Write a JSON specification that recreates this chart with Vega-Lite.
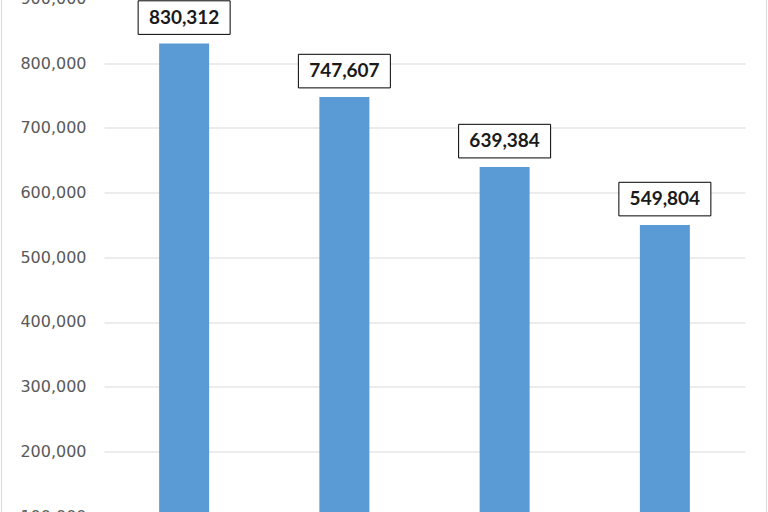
{
  "$schema": "https://vega.github.io/schema/vega-lite/v6.json",
  "autosize": {"type": "none"},
  "padding": {"left": 104, "top": -1.5, "right": 23, "bottom": 0},
  "width": 641,
  "height": 517.6,
  "background": "white",
  "config": {"view": {"stroke": null}},
  "data": {"values": [
    {"cat": "1", "value": 830312},
    {"cat": "2", "value": 747607},
    {"cat": "3", "value": 639384},
    {"cat": "4", "value": 549804}
  ]},
  "encoding": {
    "x": {"field": "cat", "type": "nominal", "axis": null, "scale": {"paddingInner": 0, "paddingOuter": 0}}
  },
  "layer": [
    {
      "mark": {"type": "bar", "width": 50, "color": "#5B9BD5"},
      "encoding": {
        "y": {"field": "value", "type": "quantitative",
          "scale": {"domain": [100000, 900000], "nice": false},
          "axis": {"title": null, "values": [100000, 200000, 300000, 400000, 500000, 600000, 700000, 800000, 900000],
            "format": ",d", "domain": false, "ticks": false, "labelPadding": 18,
            "labelFont": "DejaVu Sans", "labelFontSize": 16, "labelColor": "#595959",
            "gridColor": "#d9d9d9", "gridWidth": 1}}
      }
    },
    {
      "mark": {"type": "point", "shape": "M-1,-0.365H1V0.365H-1Z", "size": 8464, "filled": true, "fill": "white", "stroke": "black", "strokeWidth": 1, "opacity": 1, "yOffset": -26},
      "encoding": {
        "y": {"field": "value", "type": "quantitative",
          "axis": {"orient": "right", "title": null, "labels": false, "ticks": false, "grid": false, "domain": true, "domainColor": "#d9d9d9", "offset": 21}}
      }
    },
    {
      "mark": {"type": "text", "font": "Lato", "fontWeight": "bold", "fontSize": 19, "color": "#1a1a1a", "baseline": "middle", "align": "center", "yOffset": -26},
      "encoding": {
        "y": {"field": "value", "type": "quantitative",
          "axis": {"orient": "left", "title": null, "labels": false, "ticks": false, "grid": false, "domain": true, "domainColor": "#d9d9d9", "offset": 103}},
        "text": {"field": "value", "type": "quantitative", "format": ",d"}
      }
    }
  ],
  "resolve": {"axis": {"y": "independent"}}
}
